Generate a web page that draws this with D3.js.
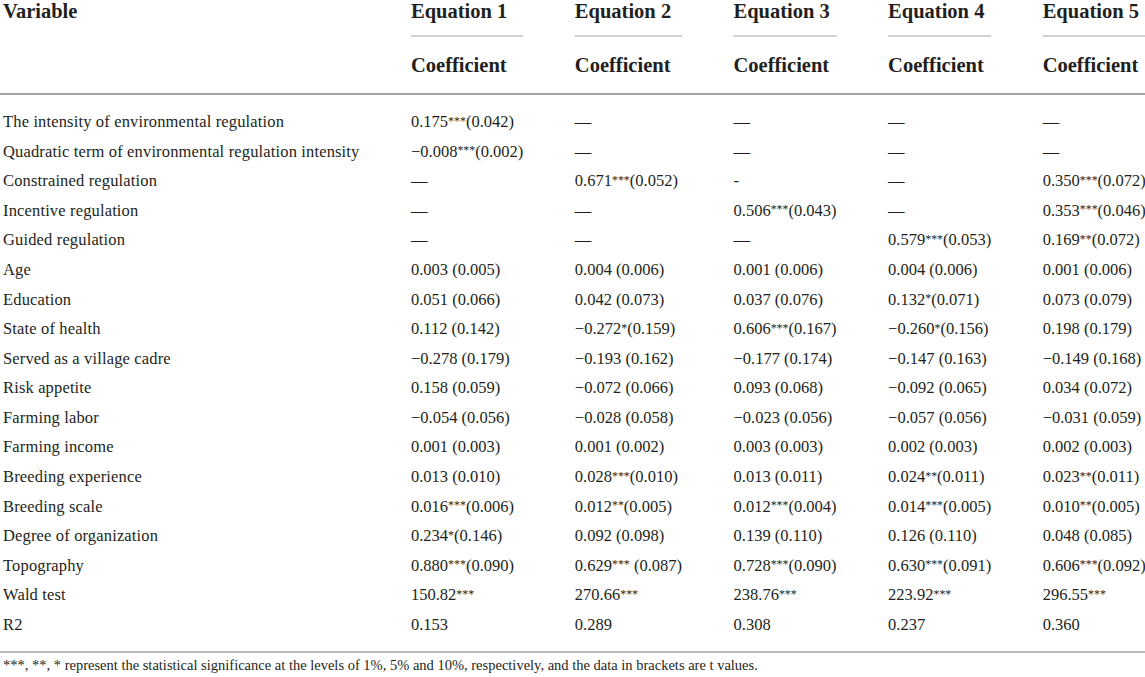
<!DOCTYPE html>
<html>
<head>
<meta charset="utf-8">
<script src="https://cdn.jsdelivr.net/npm/d3@7"></script>
<style>
  body { margin: 0; background: #fff; }
</style>
</head>
<body>
<div id="table"></div>
<script>

// TABLE DATA

const variables = [
    "The intensity of environmental regulation",
    "Quadratic term of environmental regulation intensity",
    "Constrained regulation",
    "Incentive regulation",
    "Guided regulation",
    "Age",
    "Education",
    "State of health",
    "Served as a village cadre",
    "Risk appetite",
    "Farming labor",
    "Farming income",
    "Breeding experience",
    "Breeding scale",
    "Degree of organization",
    "Topography",
    "Wald test",
    "R2"
];

const equations = ["Equation 1", "Equation 2", "Equation 3", "Equation 4", "Equation 5"];

const eq1 = ["0.175***(0.042)", "−0.008***(0.002)", "—", "—", "—",
    "0.003 (0.005)", "0.051 (0.066)", "0.112 (0.142)", "−0.278 (0.179)", "0.158 (0.059)",
    "−0.054 (0.056)", "0.001 (0.003)", "0.013 (0.010)", "0.016***(0.006)", "0.234*(0.146)",
    "0.880***(0.090)", "150.82***", "0.153"];

const eq2 = ["—", "—", "0.671***(0.052)", "—", "—",
    "0.004 (0.006)", "0.042 (0.073)", "−0.272*(0.159)", "−0.193 (0.162)", "−0.072 (0.066)",
    "−0.028 (0.058)", "0.001 (0.002)", "0.028***(0.010)", "0.012**(0.005)", "0.092 (0.098)",
    "0.629*** (0.087)", "270.66***", "0.289"];

const eq3 = ["—", "—", "-", "0.506***(0.043)", "—",
    "0.001 (0.006)", "0.037 (0.076)", "0.606***(0.167)", "−0.177 (0.174)", "0.093 (0.068)",
    "−0.023 (0.056)", "0.003 (0.003)", "0.013 (0.011)", "0.012***(0.004)", "0.139 (0.110)",
    "0.728***(0.090)", "238.76***", "0.308"];

const eq4 = ["—", "—", "—", "—", "0.579***(0.053)",
    "0.004 (0.006)", "0.132*(0.071)", "−0.260*(0.156)", "−0.147 (0.163)", "−0.092 (0.065)",
    "−0.057 (0.056)", "0.002 (0.003)", "0.024**(0.011)", "0.014***(0.005)", "0.126 (0.110)",
    "0.630***(0.091)", "223.92***", "0.237"];

const eq5 = ["—", "—", "0.350***(0.072)", "0.353***(0.046)", "0.169**(0.072)",
    "0.001 (0.006)", "0.073 (0.079)", "0.198 (0.179)", "−0.149 (0.168)", "0.034 (0.072)",
    "−0.031 (0.059)", "0.002 (0.003)", "0.023**(0.011)", "0.010**(0.005)", "0.048 (0.085)",
    "0.606***(0.092)", "296.55***", "0.360"];

const subHeader = "Coefficient";
const firstHeader = "Variable";
const footnote = "***, **, * represent the statistical significance at the levels of 1%, 5% and 10%, respectively, and the data in brackets are t values.";


// LAYOUT

const WIDTH = 1145;
const HEIGHT = 677;
const FONT = "'Liberation Serif', 'Times New Roman', serif";
const INK = "#231f20";
const RULE = "#a3a3a3";
const BODY_SIZE = 16.5;
const HEAD_SIZE = 20.5;
const GAP = 51.5;
const LEFT = 3;
const STAR_RISE = 2.5;

const columns = [eq1, eq2, eq3, eq4, eq5];

const svg = d3.select("#table")
    .append("svg")
    .attr("width", WIDTH)
    .attr("height", HEIGHT)
    .style("font-family", FONT)
    .style("background", "#fff");

const y = d3.scalePoint()
    .domain(variables)
    .range([127, 630]);

// cell text, the significance stars are small and raised like in the print
function writeCell(text, s) {
    let raised = false;
    s.split(/(\*+)/).filter(p => p.length).forEach(p => {
        const t = text.append("tspan").text(p);
        if (p[0] === "*") {
            t.attr("font-size", "0.72em").attr("dy", -STAR_RISE);
            raised = true;
        } else if (raised) {
            t.attr("dy", STAR_RISE);
            raised = false;
        }
    });
}

// header of the first column
svg.append("text")
    .attr("x", LEFT)
    .attr("y", 17.5)
    .attr("font-size", HEAD_SIZE)
    .attr("font-weight", "bold")
    .attr("fill", INK)
    .text(firstHeader);

// row labels
const labels = svg.append("g")
    .selectAll("text")
    .data(variables)
    .join("text")
    .attr("x", LEFT)
    .attr("y", d => y(d))
    .attr("font-size", BODY_SIZE)
    .attr("letter-spacing", 0.15)
    .attr("fill", INK)
    .text(d => d);

const labelWidth = d3.max(labels.nodes(), n => n.getComputedTextLength());

// equation columns, placed one after another like an auto-width table
let xPos = LEFT + labelWidth + GAP;

columns.forEach((col, i) => {
    const g = svg.append("g");

    g.append("text")
        .attr("y", 17.5)
        .attr("font-size", HEAD_SIZE)
        .attr("font-weight", "bold")
        .attr("fill", INK)
        .text(equations[i]);

    g.append("text")
        .attr("y", 72)
        .attr("font-size", HEAD_SIZE)
        .attr("font-weight", "bold")
        .attr("fill", INK)
        .text(subHeader);

    g.selectAll("text.cell")
        .data(col)
        .join("text")
        .attr("class", "cell")
        .attr("y", (d, j) => y(variables[j]))
        .attr("font-size", BODY_SIZE)
        .attr("fill", INK)
        .each(function (d) { writeCell(d3.select(this), d); });

    const colWidth = d3.max(g.selectAll("text.cell").nodes(), n => n.getComputedTextLength());
    const last = i === columns.length - 1;

    g.append("line")
        .attr("x1", 0)
        .attr("x2", last ? WIDTH - xPos : colWidth)
        .attr("y1", 36)
        .attr("y2", 36)
        .attr("stroke", RULE)
        .attr("stroke-width", 1);

    g.attr("transform", `translate(${xPos},0)`);
    xPos += colWidth + GAP;
});

// horizontal rules
svg.append("line")
    .attr("x1", 0).attr("x2", WIDTH)
    .attr("y1", 94).attr("y2", 94)
    .attr("stroke", RULE)
    .attr("stroke-width", 2);

svg.append("line")
    .attr("x1", 0).attr("x2", WIDTH)
    .attr("y1", 652).attr("y2", 652)
    .attr("stroke", RULE)
    .attr("stroke-width", 1.5);

// footnote
svg.append("text")
    .attr("x", LEFT)
    .attr("y", 670)
    .attr("font-size", 14.5)
    .attr("fill", INK)
    .text(footnote);

</script>
</body>
</html>
